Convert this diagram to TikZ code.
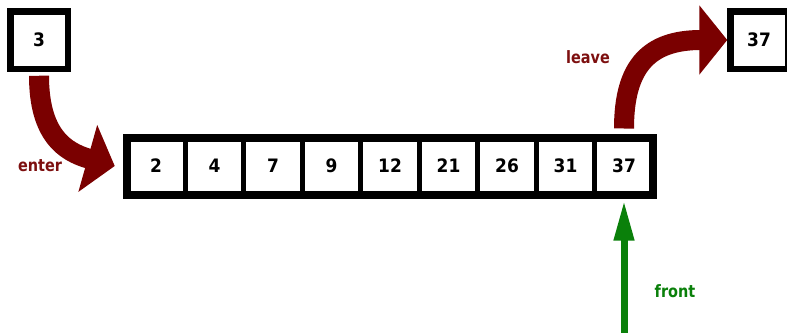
\documentclass[tikz,border=0pt]{standalone}
\usepackage{fontspec}
\setmainfont{DejaVu Sans}[FakeStretch=0.92]
\newfontfamily\labelfont{DejaVu Sans}[FakeStretch=0.85]
\usepackage{xcolor}
\usetikzlibrary{arrows.meta,positioning}

\definecolor{movered}{RGB}{122,0,0}
\definecolor{wordred}{RGB}{125,15,15}
\definecolor{frontgreen}{RGB}{10,128,10}

\begin{document}
\begin{tikzpicture}[
  x=1pt, y=-1pt,
  every node/.style={font=\bfseries},
  cell/.style={draw, line width=5pt, minimum width=58.5pt, minimum height=57pt,
    inner sep=0pt, outer sep=0pt, font=\fontsize{18.5}{20}\selectfont\bfseries},
  box/.style={draw, line width=6.5pt, minimum size=57.5pt,
    inner sep=0pt, outer sep=0pt, font=\fontsize{18.5}{20}\selectfont\bfseries},
  word/.style={font=\labelfont\fontsize{17}{19}\selectfont\bfseries},
  bigarrow/.style={draw=movered, line width=20pt, -{Triangle[length=28pt, width=68pt]}},
  frontarrow/.style={draw=frontgreen, line width=7pt, -{Triangle[length=40pt, width=19pt]}}
]
  \useasboundingbox (0,0) rectangle (787,332);

  % the queue
  \node[cell] (c1) at (156,166) {2};
  \node[cell, right=0pt of c1] (c2) {4};
  \node[cell, right=0pt of c2] (c3) {7};
  \node[cell, right=0pt of c3] (c4) {9};
  \node[cell, right=0pt of c4] (c5) {12};
  \node[cell, right=0pt of c5] (c6) {21};
  \node[cell, right=0pt of c6] (c7) {26};
  \node[cell, right=0pt of c7] (c8) {31};
  \node[cell, right=0pt of c8] (c9) {37};
  \draw[line width=8pt] (c1.north west) rectangle (c9.south east);

  \node[box] (in) at (39,40) {3};
  \node[box] (out) at (759,40) {37};
  \coordinate (foot) at (624,340);

  \node[word, text=wordred] (enter) at (40,166) {enter};
  \node[word, text=wordred] (leave) at (588,57) {leave};
  \node[word, text=frontgreen] (front) at (675,291) {front};

  \draw[bigarrow] ([yshift=-7pt]in.south) .. controls (39,135) and (65,152) .. ([xshift=-12pt]c1.west);
  \draw[bigarrow] ([yshift=9pt]c9.north) .. controls (624,65) and (650,40) .. ([xshift=-3pt]out.west);
  \draw[frontarrow] (foot) -- ([yshift=-6pt]c9.south);
\end{tikzpicture}
\end{document}
